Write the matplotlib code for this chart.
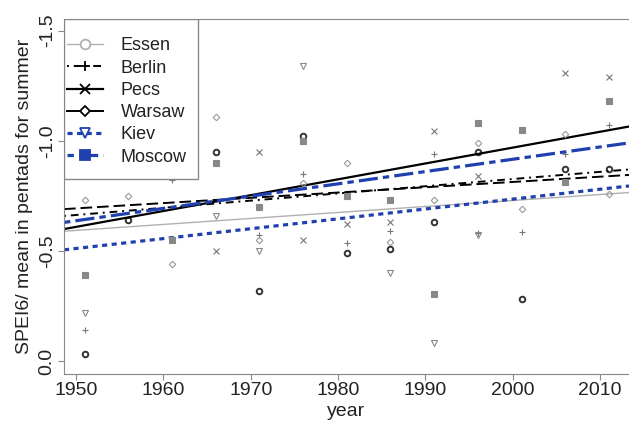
import numpy as np
import matplotlib.pyplot as plt
from matplotlib.patches import Rectangle

plt.rcParams['font.family'] = ['Liberation Sans', 'DejaVu Sans']

nan = np.nan
years = [1951, 1956, 1961, 1966, 1971, 1976, 1981, 1986, 1991, 1996, 2001, 2006, 2011]
cities = ['Essen', 'Berlin', 'Pecs', 'Warsaw', 'Kiev', 'Moscow']

# pentad means per city (nan = hidden behind other marks)
essen = [-0.03, -0.64, nan, -0.95, -0.32, -1.02, -0.49, -0.51, -0.63, -0.95, -0.28, -0.87, -0.87]
berlin = [-0.14, nan, -0.82, nan, -0.57, -0.85, -0.535, -0.59, -0.94, -0.58, -0.585, -0.94, -1.07]
pecs = [nan, nan, nan, -0.50, -0.95, -0.55, -0.62, -0.63, -1.045, -0.84, nan, -1.31, -1.29]
warsaw = [-0.73, -0.75, -0.44, -1.11, -0.55, -0.81, -0.90, -0.54, -0.73, -0.99, -0.69, -1.03, -0.76]
kiev = [-0.22, nan, nan, -0.66, -0.50, -1.34, nan, -0.40, -0.08, -0.57, nan, nan, nan]
moscow = [-0.39, nan, -0.55, -0.90, -0.70, -1.00, -0.75, -0.73, -0.305, -1.08, -1.05, -0.815, -1.18]

# linear trends: value at 1950 and at 2010
trend_1950 = [-0.593, -0.663, -0.609, -0.693, -0.511, -0.637]
trend_2010 = [-0.756, -0.859, -1.041, -0.837, -0.780, -0.972]

series = [essen, berlin, pecs, warsaw, kiev, moscow]
blue = '#2040b0'
line_col = ['#b0b0b0', 'black', 'black', 'black', blue, blue]
line_lw = [1.0, 1.4, 1.6, 1.4, 2.3, 2.3]
line_ls = ['-', (0, (1, 2.5, 4, 2.5)), '-', (0, (6, 2.5)), (0, (1.6, 1.4)), (0, (2, 1.6, 6, 1.6))]
mk = ['o', '+', 'x', 'D', 'v', 's']
pt_col = ['#333333', '#777777', '#777777', '#999999', '#888888', '#888888']
leg_mk_col = ['#b0b0b0', 'black', 'black', 'black', blue, blue]

fig = plt.figure(figsize=(6.29, 4.21), dpi=100)
ax = fig.add_axes([64/629, 1-374/421, (629-64)/629, (374-19)/421])

for i in range(6):
    face = 'none' if mk[i] in ('o', 'D', 'v') else pt_col[i]
    lw_m = 1.4 if i == 0 else 0.8
    ms = 4.0 if mk[i] != 'D' else 3.3
    ax.plot(years, series[i], ls='none', marker=mk[i], ms=ms, mfc=face,
            mec=pt_col[i], mew=lw_m)
    ax.axline((1950, trend_1950[i]), (2010, trend_2010[i]), color=line_col[i],
              lw=line_lw[i], ls=line_ls[i])

ax.set_xlim(1948.63, 2013.3)
ax.set_ylim(0.059, -1.553)

# legend box (drawn by hand so the inner padding matches)
ax.add_patch(Rectangle((0, 0.549), 0.237, 0.451, transform=ax.transAxes,
                       facecolor='white', edgecolor='#888888', lw=1.0, zorder=4))
handles = []
for i in range(6):
    face = blue if i == 5 else 'white'
    ls = '-' if i == 3 else line_ls[i]
    h, = ax.plot([], [], color=line_col[i], lw=line_lw[i], ls=ls,
                 marker=mk[i], ms=7 if mk[i] != 'D' else 5.5, mfc=face,
                 mec=leg_mk_col[i], mew=1.3)
    handles.append(h)
leg = ax.legend(handles, cities, loc='upper left', bbox_to_anchor=(0.005, 0.948),
                fontsize=13, frameon=False, borderaxespad=0, borderpad=0,
                handlelength=2.0, handletextpad=1.0, labelspacing=0.29)
leg.set_zorder(5)
for t in leg.get_texts():
    t.set_color('#222222')

ax.set_xticks([1950, 1960, 1970, 1980, 1990, 2000, 2010])
ax.set_yticks([0.0, -0.5, -1.0, -1.5])
ax.set_yticklabels(['0.0', '-0.5', '-1.0', '-1.5'], rotation=90, va='center')
ax.tick_params(labelsize=14, length=4, color='#888888', labelcolor='#222222', pad=2)
for s in ['left', 'bottom', 'top']:
    ax.spines[s].set_color('#888888')
ax.spines['right'].set_visible(False)

ax.set_xlabel('year', fontsize=14, color='#222222', labelpad=3)
ax.set_ylabel('SPEI6/ mean in pentads for summer', fontsize=14, color='#222222', labelpad=4)

fig.savefig('out.png', dpi=100)
